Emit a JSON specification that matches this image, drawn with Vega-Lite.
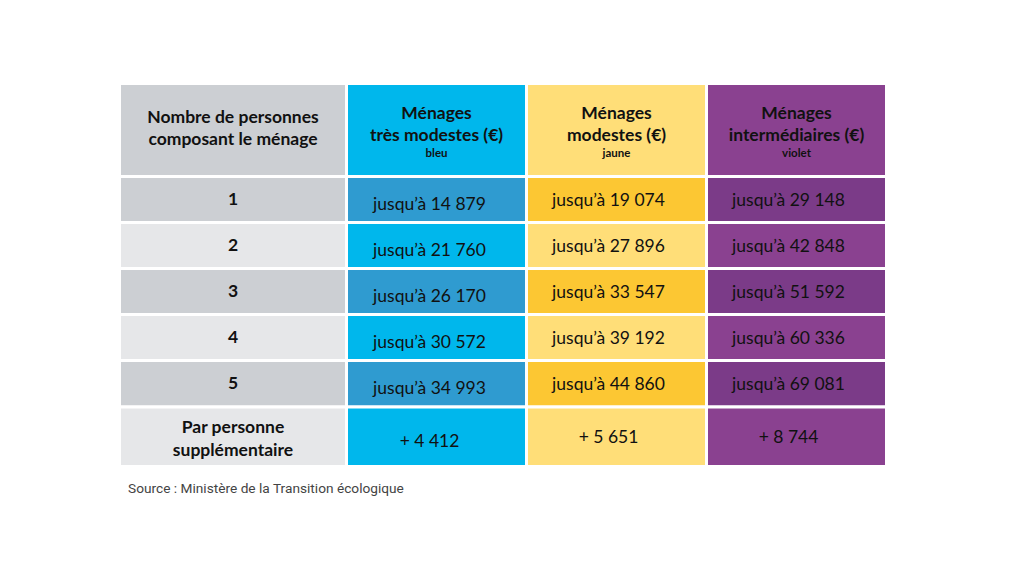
{
  "$schema": "https://vega.github.io/schema/vega-lite/v6.json",
  "width": 1024,
  "height": 576,
  "autosize": {"type": "fit", "contains": "padding"},
  "padding": 0,
  "background": "white",
  "config": {"view": {"stroke": null}},
  "data": {
    "values": [
      {"col": 0, "ligne": 0, "texte": "Nombre de personnes\ncomposant le ménage", "sous": ""},
      {"col": 1, "ligne": 0, "texte": "Ménages\ntrès modestes (€)", "sous": "bleu"},
      {"col": 2, "ligne": 0, "texte": "Ménages\nmodestes (€)", "sous": "jaune"},
      {"col": 3, "ligne": 0, "texte": "Ménages\nintermédiaires (€)", "sous": "violet"},
      {"col": 0, "ligne": 1, "texte": "1", "sous": ""},
      {"col": 1, "ligne": 1, "texte": "jusqu’à 14 879", "sous": ""},
      {"col": 2, "ligne": 1, "texte": "jusqu’à 19 074", "sous": ""},
      {"col": 3, "ligne": 1, "texte": "jusqu’à 29 148", "sous": ""},
      {"col": 0, "ligne": 2, "texte": "2", "sous": ""},
      {"col": 1, "ligne": 2, "texte": "jusqu’à 21 760", "sous": ""},
      {"col": 2, "ligne": 2, "texte": "jusqu’à 27 896", "sous": ""},
      {"col": 3, "ligne": 2, "texte": "jusqu’à 42 848", "sous": ""},
      {"col": 0, "ligne": 3, "texte": "3", "sous": ""},
      {"col": 1, "ligne": 3, "texte": "jusqu’à 26 170", "sous": ""},
      {"col": 2, "ligne": 3, "texte": "jusqu’à 33 547", "sous": ""},
      {"col": 3, "ligne": 3, "texte": "jusqu’à 51 592", "sous": ""},
      {"col": 0, "ligne": 4, "texte": "4", "sous": ""},
      {"col": 1, "ligne": 4, "texte": "jusqu’à 30 572", "sous": ""},
      {"col": 2, "ligne": 4, "texte": "jusqu’à 39 192", "sous": ""},
      {"col": 3, "ligne": 4, "texte": "jusqu’à 60 336", "sous": ""},
      {"col": 0, "ligne": 5, "texte": "5", "sous": ""},
      {"col": 1, "ligne": 5, "texte": "jusqu’à 34 993", "sous": ""},
      {"col": 2, "ligne": 5, "texte": "jusqu’à 44 860", "sous": ""},
      {"col": 3, "ligne": 5, "texte": "jusqu’à 69 081", "sous": ""},
      {"col": 0, "ligne": 6, "texte": "Par personne\nsupplémentaire", "sous": ""},
      {"col": 1, "ligne": 6, "texte": "+ 4 412", "sous": ""},
      {"col": 2, "ligne": 6, "texte": "+ 5 651", "sous": ""},
      {"col": 3, "ligne": 6, "texte": "+ 8 744", "sous": ""},
      {"col": 0, "ligne": 7, "texte": "Source : Ministère de la Transition écologique", "sous": ""}
    ]
  },
  "transform": [
    {"calculate": "datum.col + 0.5", "as": "xc"},
    {"calculate": "datum.col + 1", "as": "x1"},
    {"calculate": "datum.ligne + 0.5", "as": "yc"},
    {"calculate": "datum.ligne + 1", "as": "y1"},
    {"calculate": "datum.col + '-' + ((datum.ligne % 2 == 1 || (datum.ligne == 0 && datum.col == 0)) ? 'f' : 'c')", "as": "cle"}
  ],
  "layer": [
    {
      "transform": [{"filter": "datum.ligne <= 6"}],
      "mark": {"type": "rect", "stroke": "white", "strokeWidth": 3},
      "encoding": {
        "x": {"field": "col", "type": "quantitative", "axis": null, "scale": {"domain": [0, 1, 2, 3, 4], "range": [119.5, 346.5, 526.5, 706.5, 886.5], "nice": false, "zero": false}},
        "x2": {"field": "x1"},
        "y": {"field": "ligne", "type": "quantitative", "axis": null, "scale": {"domain": [0, 1, 2, 3, 4, 5, 6, 7, 8], "range": [83.5, 176.5, 222.5, 268.5, 314.5, 360.5, 407, 466.5, 512], "nice": false, "zero": false}},
        "y2": {"field": "y1"},
        "color": {"field": "cle", "type": "nominal", "legend": null, "scale": {
          "domain": ["0-f", "0-c", "1-f", "1-c", "2-f", "2-c", "3-f", "3-c"],
          "range": ["#CCCFD3", "#E6E7E9", "#2F9BD0", "#00B7EC", "#FCC733", "#FFDE78", "#7B3B88", "#8A4190"]}}
      }
    },
    {
      "transform": [{"filter": "datum.ligne >= 1 && datum.ligne <= 6 && datum.col >= 2"}],
      "mark": {"type": "text", "font": "Lato", "fontSize": 17.5, "color": "#111111", "baseline": "middle", "align": "center", "dx": -8, "dy": 1},
      "encoding": {
        "x": {"field": "xc", "type": "quantitative", "axis": null, "scale": {"domain": [0, 1, 2, 3, 4], "range": [119.5, 346.5, 526.5, 706.5, 886.5], "nice": false, "zero": false}},
        "y": {"field": "yc", "type": "quantitative", "axis": null, "scale": {"domain": [0, 1, 2, 3, 4, 5, 6, 7, 8], "range": [83.5, 176.5, 222.5, 268.5, 314.5, 360.5, 407, 466.5, 512], "nice": false, "zero": false}},
        "text": {"field": "texte"}
      }
    },
    {
      "transform": [{"filter": "datum.ligne >= 1 && datum.ligne <= 6 && datum.col == 1"}],
      "mark": {"type": "text", "font": "Lato", "fontSize": 17.5, "color": "#111111", "baseline": "middle", "align": "center", "dx": -7, "dy": 5},
      "encoding": {
        "x": {"field": "xc", "type": "quantitative", "axis": null, "scale": {"domain": [0, 1, 2, 3, 4], "range": [119.5, 346.5, 526.5, 706.5, 886.5], "nice": false, "zero": false}},
        "y": {"field": "yc", "type": "quantitative", "axis": null, "scale": {"domain": [0, 1, 2, 3, 4, 5, 6, 7, 8], "range": [83.5, 176.5, 222.5, 268.5, 314.5, 360.5, 407, 466.5, 512], "nice": false, "zero": false}},
        "text": {"field": "texte"}
      }
    },
    {
      "transform": [{"filter": "datum.ligne >= 1 && datum.ligne <= 5 && datum.col == 0"}],
      "mark": {"type": "text", "font": "Lato", "fontWeight": "bold", "fontSize": 17.5, "color": "#111111", "baseline": "middle", "align": "center"},
      "encoding": {
        "x": {"field": "xc", "type": "quantitative", "axis": null, "scale": {"domain": [0, 1, 2, 3, 4], "range": [119.5, 346.5, 526.5, 706.5, 886.5], "nice": false, "zero": false}},
        "y": {"field": "yc", "type": "quantitative", "axis": null, "scale": {"domain": [0, 1, 2, 3, 4, 5, 6, 7, 8], "range": [83.5, 176.5, 222.5, 268.5, 314.5, 360.5, 407, 466.5, 512], "nice": false, "zero": false}},
        "text": {"field": "texte"}
      }
    },
    {
      "transform": [{"filter": "datum.ligne == 6 && datum.col == 0"}],
      "mark": {"type": "text", "font": "Lato", "fontWeight": "bold", "fontSize": 17.5, "color": "#111111", "baseline": "middle", "align": "center", "lineBreak": "\n", "lineHeight": 23, "dy": -9},
      "encoding": {
        "x": {"field": "xc", "type": "quantitative", "axis": null, "scale": {"domain": [0, 1, 2, 3, 4], "range": [119.5, 346.5, 526.5, 706.5, 886.5], "nice": false, "zero": false}},
        "y": {"field": "yc", "type": "quantitative", "axis": null, "scale": {"domain": [0, 1, 2, 3, 4, 5, 6, 7, 8], "range": [83.5, 176.5, 222.5, 268.5, 314.5, 360.5, 407, 466.5, 512], "nice": false, "zero": false}},
        "text": {"field": "texte"}
      }
    },
    {
      "transform": [{"filter": "datum.ligne == 0 && datum.col == 0"}],
      "mark": {"type": "text", "font": "Lato", "fontWeight": "bold", "fontSize": 17.5, "color": "#111111", "baseline": "middle", "align": "center", "lineBreak": "\n", "lineHeight": 22, "dy": -12},
      "encoding": {
        "x": {"field": "xc", "type": "quantitative", "axis": null, "scale": {"domain": [0, 1, 2, 3, 4], "range": [119.5, 346.5, 526.5, 706.5, 886.5], "nice": false, "zero": false}},
        "y": {"field": "yc", "type": "quantitative", "axis": null, "scale": {"domain": [0, 1, 2, 3, 4, 5, 6, 7, 8], "range": [83.5, 176.5, 222.5, 268.5, 314.5, 360.5, 407, 466.5, 512], "nice": false, "zero": false}},
        "text": {"field": "texte"}
      }
    },
    {
      "transform": [{"filter": "datum.ligne == 0 && datum.col >= 1"}],
      "mark": {"type": "text", "font": "Lato", "fontWeight": "bold", "fontSize": 17.5, "color": "#111111", "baseline": "middle", "align": "center", "lineBreak": "\n", "lineHeight": 22, "dy": -16},
      "encoding": {
        "x": {"field": "xc", "type": "quantitative", "axis": null, "scale": {"domain": [0, 1, 2, 3, 4], "range": [119.5, 346.5, 526.5, 706.5, 886.5], "nice": false, "zero": false}},
        "y": {"field": "yc", "type": "quantitative", "axis": null, "scale": {"domain": [0, 1, 2, 3, 4, 5, 6, 7, 8], "range": [83.5, 176.5, 222.5, 268.5, 314.5, 360.5, 407, 466.5, 512], "nice": false, "zero": false}},
        "text": {"field": "texte"}
      }
    },
    {
      "transform": [{"filter": "datum.ligne == 0 && datum.col >= 1"}],
      "mark": {"type": "text", "font": "Lato", "fontWeight": "bold", "fontSize": 11.5, "color": "#111111", "baseline": "middle", "align": "center", "dy": 24},
      "encoding": {
        "x": {"field": "xc", "type": "quantitative", "axis": null, "scale": {"domain": [0, 1, 2, 3, 4], "range": [119.5, 346.5, 526.5, 706.5, 886.5], "nice": false, "zero": false}},
        "y": {"field": "yc", "type": "quantitative", "axis": null, "scale": {"domain": [0, 1, 2, 3, 4, 5, 6, 7, 8], "range": [83.5, 176.5, 222.5, 268.5, 314.5, 360.5, 407, 466.5, 512], "nice": false, "zero": false}},
        "text": {"field": "sous"}
      }
    },
    {
      "transform": [{"filter": "datum.ligne == 7"}],
      "mark": {"type": "text", "font": "Roboto", "fontSize": 13.7, "color": "#444444", "baseline": "middle", "align": "left", "dx": 8.5},
      "encoding": {
        "x": {"field": "col", "type": "quantitative", "axis": null, "scale": {"domain": [0, 1, 2, 3, 4], "range": [119.5, 346.5, 526.5, 706.5, 886.5], "nice": false, "zero": false}},
        "y": {"field": "yc", "type": "quantitative", "axis": null, "scale": {"domain": [0, 1, 2, 3, 4, 5, 6, 7, 8], "range": [83.5, 176.5, 222.5, 268.5, 314.5, 360.5, 407, 466.5, 512], "nice": false, "zero": false}},
        "text": {"field": "texte"}
      }
    }
  ]
}
